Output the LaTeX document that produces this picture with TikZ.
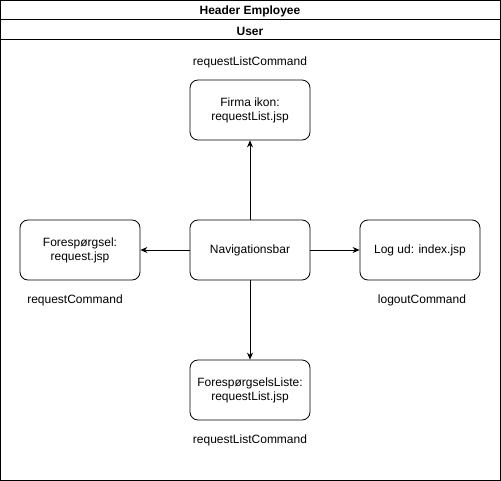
\documentclass[tikz,border=0pt]{standalone}
\usepackage{fontspec}
\setmainfont{Liberation Sans}
\usetikzlibrary{arrows.meta}
\begin{document}
\begin{tikzpicture}[x=1pt,y=-1pt]
            \tikzstyle{every node}=[font=\fontsize{12}{14}\selectfont, text=black]
            \tikzstyle{page}=[rounded corners=8pt, draw=black, line width=0.8pt, minimum width=120pt, minimum height=60pt, align=center, inner sep=2pt]
            \tikzstyle{link}=[-{Stealth[length=7pt,width=6pt]}, line width=0.8pt]
            \useasboundingbox (0,0) rectangle (501,481);

            % frame with header rows
            \draw[line width=1pt] (0.5,0.5) rectangle (500.5,480.5);
            \draw[line width=1pt] (0.5,20) -- (500.5,20);
            \draw[line width=1pt] (0.5,40) -- (500.5,40);
            \node[font=\fontsize{12}{14}\selectfont\bfseries] (header) at (250,11) {Header Employee};
            \node[font=\fontsize{12}{14}\selectfont\bfseries] (user) at (250,31) {User};

            \node[page] (nav) at (250,250) {Navigationsbar};
            \node[page] (firma) at (250,110) {Firma ikon:\\requestList.jsp};
            \node[page] (foresp) at (80,250) {Forespørgsel:\\request.jsp};
            \node[page] (logud) at (420,250) {Log ud: index.jsp};
            \node[page] (liste) at (250,390) {ForespørgselsListe:\\requestList.jsp};

            \node (cmdtop) at (250,62) {requestListCommand};
            \node (cmdleft) at (75,300) {requestCommand};
            \node (cmdright) at (422,300) {logoutCommand};
            \node (cmdbottom) at (250,440) {requestListCommand};

            \draw[link] (nav) -- (firma);
            \draw[link] (nav) -- (foresp);
            \draw[link] (nav) -- (logud);
            \draw[link] (nav) -- (liste);
        \end{tikzpicture}
\end{document}
